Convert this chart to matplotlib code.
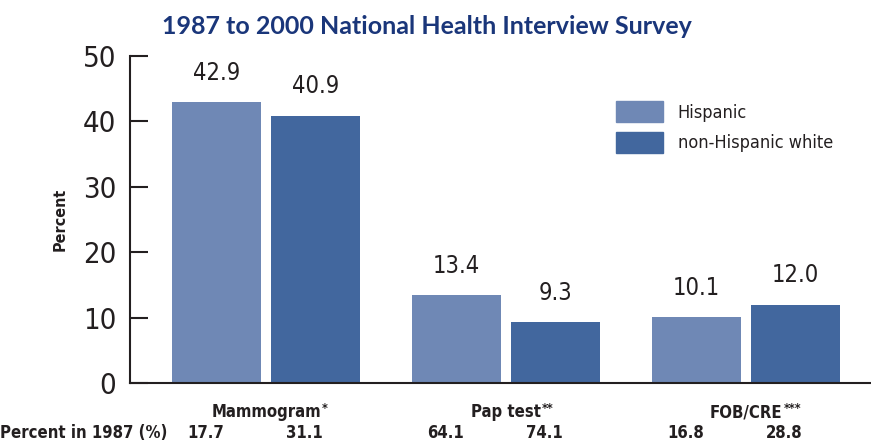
import numpy as np
import matplotlib.pyplot as plt
from matplotlib.patches import Patch

plt.rcParams['font.family'] = ['DejaVu Sans']
plt.rcParams['font.stretch'] = 'condensed'

# data
categories = ['Mammogram', 'Pap test', 'FOB/CRE']
markers = ['*', '**', '***']
hispanic = [42.9, 13.4, 10.1]
non_hispanic_white = [40.9, 9.3, 12.0]
pct_1987_hispanic = [17.7, 64.1, 16.8]
pct_1987_white = [31.1, 74.1, 28.8]
yticks = [0, 10, 20, 30, 40, 50]

col_hisp = '#6f88b5'
col_white = '#42679e'
txt = '#231f20'

W, H = 8.71, 4.42
fig = plt.figure(figsize=(W, H), dpi=100)
ax = fig.add_axes([130 / 871, 1 - 383 / 442, 741 / 871, 327 / 442])

x = np.arange(len(categories))
w = 89 / 240
off = 49.5 / 240

b1 = ax.bar(x - off, hispanic, w, color=col_hisp, label='Hispanic')
b2 = ax.bar(x + off, non_hispanic_white, w, color=col_white, label='non-Hispanic white')

for bars, vals in [(b1, hispanic), (b2, non_hispanic_white)]:
    for b, v in zip(bars, vals):
        ax.annotate(f'{v:.1f}', (b.get_x() + b.get_width() / 2, v),
                    xytext=(0, 21), textcoords='offset points',
                    ha='center', va='center', fontsize=17, color=txt)

ax.set_xlim((130 - 266) / 240, (871 - 266) / 240)
ax.set_ylim(0, 50)
ax.set_yticks(yticks)
ax.set_xticks([])
ax.tick_params(axis='y', direction='in', length=13, width=1.5, labelsize=21,
               pad=10, colors=txt)
for s in ['top', 'right']:
    ax.spines[s].set_visible(False)
for s in ['left', 'bottom']:
    ax.spines[s].set_linewidth(1.5)
    ax.spines[s].set_color(txt)

ax.set_ylabel('Percent', fontsize=11.5, fontweight='bold', color=txt, labelpad=11)

# category labels and 1987 values under the axis
cat_texts = []
for i, c in enumerate(categories):
    t = ax.annotate(c, (i, 0), xytext=(0, -21), textcoords='offset points',
                    ha='center', va='center', fontsize=12, fontweight='bold', color=txt)
    cat_texts.append(t)
    for xv, v in [(i - off, pct_1987_hispanic[i]), (i + off, pct_1987_white[i])]:
        ax.annotate(f'{v:.1f}', (xv, 0), xytext=(-8, -36), textcoords='offset points',
                    ha='center', va='center', fontsize=12, fontweight='bold', color=txt)

# superscript asterisks after each category name
fig.canvas.draw()
for t, m in zip(cat_texts, markers):
    bb = t.get_window_extent()
    fig.text((bb.x1 + 1) / fig.dpi / W, (bb.y1 + 1) / fig.dpi / H, m,
             ha='left', va='top', fontsize=9, fontweight='bold', color=txt)

fig.text(0, 1 - 433 / 442, 'Percent in 1987 (%)', ha='left', va='center',
         fontsize=12, fontweight='bold', color=txt)

fig.text(427 / 871, 1 - 26 / 442, '1987 to 2000 National Health Interview Survey',
         ha='center', va='center', fontsize=18, fontweight='bold', color='#1a367a',
         family=['Lato', 'DejaVu Sans'], stretch='normal')

handles = [Patch(color=col_hisp), Patch(color=col_white)]
ax.legend(handles, ['Hispanic', 'non-Hispanic white'], loc='upper left',
          bbox_to_anchor=((600 - 130) / 741, 1 - (85 - 56) / 327), frameon=False,
          fontsize=13, handlelength=2.6, handleheight=1.4, handletextpad=0.8,
          labelspacing=0.55, labelcolor=txt)

fig.savefig('out.png', dpi=100)
